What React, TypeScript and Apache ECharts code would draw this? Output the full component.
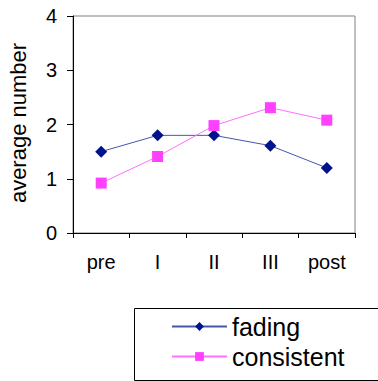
import React, { useEffect, useRef } from "react";
import * as echarts from "echarts";

const categories = ["pre", "I", "II", "III", "post"];
const fading = [1.5, 1.8, 1.8, 1.61, 1.2];
const consistent = [0.92, 1.41, 1.98, 2.31, 2.08];
const yTicks = { min: 0, max: 4, interval: 1 };

export default function App() {
  const ref = useRef<HTMLDivElement>(null);
  useEffect(() => {
    if (!ref.current) return;
    const chart = echarts.init(ref.current, null, { renderer: "svg" });
    const font = "Liberation Sans, Arial, sans-serif";
    chart.setOption({
      animation: false,
      backgroundColor: "#ffffff",
      grid: {
        left: 73,
        right: 23,
        top: 16,
        bottom: 148,
        show: true,
        borderColor: "#808080",
        borderWidth: 1,
        backgroundColor: "transparent",
      },
      xAxis: {
        type: "category",
        data: categories,
        boundaryGap: true,
        axisLine: { lineStyle: { color: "#000", width: 1 } },
        axisTick: { show: true, length: 5, lineStyle: { color: "#000" } },
        axisLabel: { color: "#000", fontSize: 20, fontFamily: font, margin: 19 },
        splitLine: { show: false },
      },
      yAxis: {
        type: "value",
        min: yTicks.min,
        max: yTicks.max,
        interval: yTicks.interval,
        axisLine: { show: true, lineStyle: { color: "#000", width: 1 } },
        axisTick: { show: true, length: 6, lineStyle: { color: "#000" } },
        axisLabel: { color: "#000", fontSize: 20, fontFamily: font, margin: 16 },
        splitLine: { show: false },
      },
      legend: {
        orient: "vertical",
        left: 171,
        top: 314,
        itemWidth: 55,
        itemHeight: 11,
        itemGap: 5,
        padding: 0,
        textStyle: { color: "#000", fontSize: 25, fontFamily: font, lineHeight: 25, padding: [0, 0, 0, 0] },
        data: ["fading", "consistent"],
      },
      graphic: [
        {
          type: "rect",
          shape: { x: 134.5, y: 308.5, width: 248, height: 72 },
          style: { fill: "none", stroke: "#000", lineWidth: 1 },
          z: -1,
        },
        {
          type: "text",
          x: 18,
          y: 123,
          rotation: Math.PI / 2,
          style: {
            text: "average number",
            fontSize: 22,
            fontFamily: font,
            fill: "#000",
            textAlign: "center",
            textVerticalAlign: "middle",
          },
        },
      ],
      series: [
        {
          name: "fading",
          type: "line",
          data: fading,
          symbol: "diamond",
          symbolSize: 12,
          itemStyle: { color: "#00128c" },
          lineStyle: { color: "#4656b0", width: 1 },
        },
        {
          name: "consistent",
          type: "line",
          data: consistent,
          symbol: "rect",
          symbolSize: 11,
          itemStyle: { color: "#ff40ff" },
          lineStyle: { color: "#ff70ff", width: 1 },
        },
      ],
    });
    return () => chart.dispose();
  }, []);
  return <div ref={ref} style={{ width: 378, height: 381, position: "absolute", left: 0, top: 0 }} />;
}
